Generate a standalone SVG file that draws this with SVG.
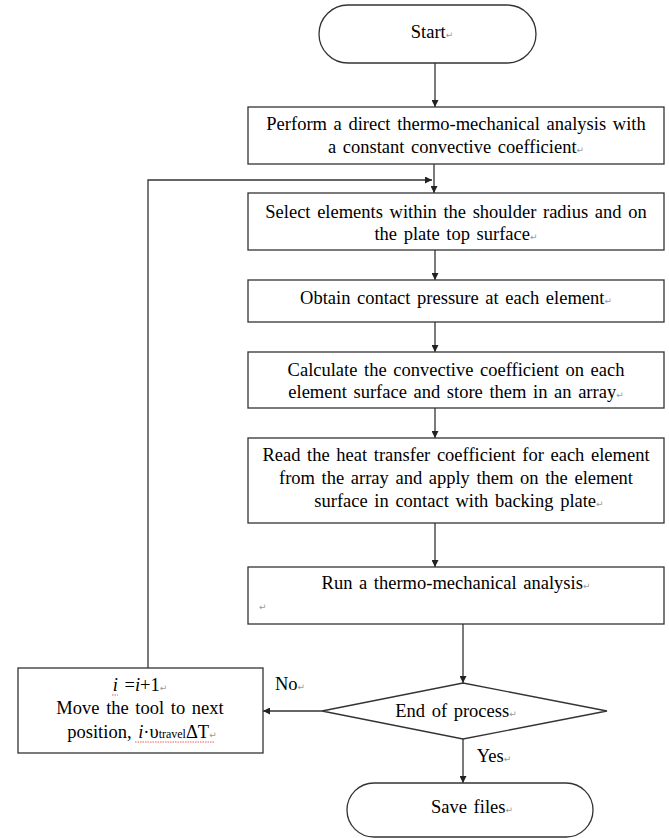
<svg xmlns="http://www.w3.org/2000/svg" width="669" height="838" viewBox="0 0 669 838">
<style>
.s{fill:#fff;stroke:#333;stroke-width:1.3}
.t{font-family:'Liberation Serif','DejaVu Serif',serif;font-size:18.5px;fill:#000;text-anchor:middle;word-spacing:2px}
.pm{font-family:'DejaVu Sans',sans-serif;font-size:9px;fill:#999}
.c{fill:none;stroke:#333;stroke-width:1.3}
.sq{fill:none;stroke:#e33;stroke-width:0.8;stroke-dasharray:1.5 1}
</style>
<defs>
<marker id="ah" viewBox="0 0 10 10" refX="10" refY="5" markerWidth="7" markerHeight="7" orient="auto" markerUnits="userSpaceOnUse">
<path d="M0,0 L10,5 L0,10 z" fill="#222"/>
</marker>
</defs>
<rect width="669" height="838" fill="#fff"/>
<g id="connectors">
<line class="c" x1="435" y1="63" x2="435" y2="107" marker-end="url(#ah)"/>
<line class="c" x1="434" y1="164" x2="434" y2="193" marker-end="url(#ah)"/>
<polyline class="c" points="148,668 148,180 432,180" marker-end="url(#ah)"/>
<line class="c" x1="435" y1="250" x2="435" y2="280" marker-end="url(#ah)"/>
<line class="c" x1="435" y1="322" x2="435" y2="352" marker-end="url(#ah)"/>
<line class="c" x1="435" y1="408" x2="435" y2="438" marker-end="url(#ah)"/>
<line class="c" x1="435" y1="523" x2="435" y2="567" marker-end="url(#ah)"/>
<line class="c" x1="463" y1="624" x2="463" y2="683" marker-end="url(#ah)"/>
<line class="c" x1="463" y1="739" x2="463" y2="783" marker-end="url(#ah)"/>
<line class="c" x1="322" y1="711" x2="263" y2="711" marker-end="url(#ah)"/>
<text class="t" x="290" y="690">No<tspan class="pm">↵</tspan></text>
<text class="t" x="494" y="762">Yes<tspan class="pm">↵</tspan></text>
</g>
<g id="start">
<rect class="s" x="319" y="5" width="217" height="58" rx="29" ry="29"/>
<text class="t" x="432" y="38">Start<tspan class="pm">↵</tspan></text>
</g>
<g id="perform">
<rect class="s" x="248" y="107" width="416" height="57"/>
<text class="t" x="456" y="130">Perform a direct thermo-mechanical analysis with</text>
<text class="t" x="456" y="153">a constant convective coefficient<tspan class="pm">↵</tspan></text>
</g>
<g id="select">
<rect class="s" x="248" y="193" width="416" height="57"/>
<text class="t" x="456" y="218">Select elements within the shoulder radius and on</text>
<text class="t" x="456" y="240">the plate top surface<tspan class="pm">↵</tspan></text>
</g>
<g id="obtain">
<rect class="s" x="248" y="280" width="416" height="42"/>
<text class="t" x="456" y="304">Obtain contact pressure at each element<tspan class="pm">↵</tspan></text>
</g>
<g id="calculate">
<rect class="s" x="248" y="352" width="416" height="56"/>
<text class="t" x="456" y="376">Calculate the convective coefficient on each</text>
<text class="t" x="456" y="398">element surface and store them in an array<tspan class="pm">↵</tspan></text>
</g>
<g id="read">
<rect class="s" x="248" y="438" width="416" height="85"/>
<text class="t" x="456" y="461">Read the heat transfer coefficient for each element</text>
<text class="t" x="456" y="484">from the array and apply them on the element</text>
<text class="t" x="459" y="507">surface in contact with backing plate<tspan class="pm">↵</tspan></text>
</g>
<g id="run">
<rect class="s" x="248" y="567" width="416" height="57"/>
<text class="t" x="456" y="589">Run a thermo-mechanical analysis<tspan class="pm">↵</tspan></text>
<text class="pm" x="259" y="610">↵</text>
</g>
<g id="end">
<polygon class="s" points="463,683 607,711 463,739 322,711"/>
<text class="t" x="456" y="717">End of process<tspan class="pm">↵</tspan></text>
</g>
<g id="move">
<rect class="s" x="18" y="668" width="245" height="85"/>
<text class="t" x="140" y="691"><tspan font-style="italic">i</tspan> =<tspan font-style="italic">i</tspan>+1<tspan class="pm">↵</tspan></text>
<text class="t" x="140" y="714">Move the tool to next</text>
<text class="t" x="142" y="738">position, <tspan font-style="italic">i</tspan>·υ<tspan font-size="12px">travel</tspan>ΔT<tspan class="pm">↵</tspan></text>
<line class="sq" x1="112" y1="695" x2="118" y2="695"/>
<line class="sq" x1="135" y1="742" x2="214" y2="742"/>
</g>
<g id="save">
<rect class="s" x="347" y="783" width="246" height="54" rx="27" ry="27"/>
<text class="t" x="472" y="813">Save files<tspan class="pm">↵</tspan></text>
</g>
</svg>
